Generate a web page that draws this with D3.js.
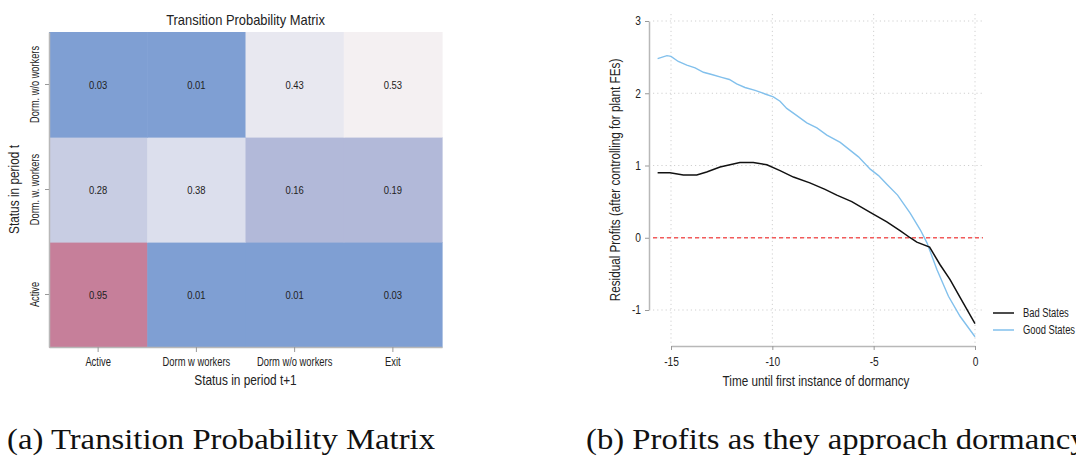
<!DOCTYPE html>
<html><head><meta charset="utf-8">
<script src="https://cdn.jsdelivr.net/npm/d3@7"></script>
<style>
html,body{margin:0;padding:0;background:#fff;}
svg{display:block;}
</style></head>
<body>
<svg id="chart" width="1076" height="456"></svg>
<script>
// ---------- DATA ----------
const colCategories = ["Active", "Dorm w workers", "Dorm w/o workers", "Exit"];
const rowCategories = ["Active", "Dorm. w. workers", "Dorm. w/o workers"];
const rowActive = [0.95, 0.01, 0.01, 0.03];
const rowDormW = [0.28, 0.38, 0.16, 0.19];
const rowDormWo = [0.03, 0.01, 0.43, 0.53];

const badT = [-15.66, -15.05, -14.39, -13.73, -13.24, -12.58, -12.09, -11.6, -10.94, -10.27, -9.62, -8.96, -8.15, -7.4, -6.82, -6.08, -5.17, -4.35, -3.7, -3.2, -2.87, -2.24, -1.73, -1.23, -0.73, 0];
const badV = [0.90, 0.90, 0.87, 0.87, 0.91, 0.98, 1.01, 1.04, 1.04, 1.01, 0.93, 0.84, 0.76, 0.67, 0.59, 0.50, 0.35, 0.22, 0.10, 0.00, -0.06, -0.13, -0.37, -0.58, -0.83, -1.19];
const goodT = [-15.66, -15.2, -15.0, -14.64, -14.22, -13.81, -13.4, -12.99, -12.5, -12.12, -11.76, -11.35, -10.85, -10.36, -9.95, -9.62, -9.29, -8.79, -8.3, -7.8, -7.31, -6.65, -5.75, -5.17, -4.76, -4.35, -3.82, -3.2, -2.7, -2.37, -1.88, -1.31, -0.73, 0];
const goodV = [2.48, 2.52, 2.51, 2.44, 2.39, 2.35, 2.29, 2.26, 2.22, 2.19, 2.13, 2.08, 2.04, 1.99, 1.95, 1.89, 1.79, 1.69, 1.59, 1.52, 1.42, 1.32, 1.12, 0.95, 0.86, 0.74, 0.59, 0.34, 0.11, -0.07, -0.44, -0.81, -1.09, -1.37];
const xTicks = [-15, -10, -5, 0];
const yTicks = [-1, 0, 1, 2, 3];
const seriesNames = ["Bad States", "Good States"];

// ---------- SETUP ----------
const svg = d3.select("#chart");
const sansFont = '"Liberation Sans",Arial,sans-serif';
// emulate a narrow sans face by horizontally compressing glyphs
function squeeze(sel, f) {
  sel.each(function () {
    const w = this.getComputedTextLength();
    d3.select(this).attr("textLength", (w * f).toFixed(2)).attr("lengthAdjust", "spacingAndGlyphs");
  });
}

// ---------- HEATMAP ----------
const matrix = [rowActive, rowDormW, rowDormWo];
const cells = [];
rowCategories.forEach((r, i) => colCategories.forEach((c, j) => cells.push({row: r, col: c, v: matrix[i][j]})));

const hx = d3.scaleBand().domain(colCategories).range([49, 442]);
const hy = d3.scaleBand().domain(rowCategories.slice().reverse()).range([32, 347]);
const hColor = d3.scaleThreshold()
  .domain([0.1, 0.2, 0.3, 0.4, 0.5, 0.6, 0.9])
  .range(["#7f9fd3", "#b2b9d9", "#c8cde3", "#dcdfed", "#e8e8f0", "#f4f0f2", "#e2b9c8", "#c67f9a"]);

const hm = svg.append("g");
hm.selectAll("rect.cell").data(cells).join("rect")
  .attr("class", "cell")
  .attr("x", d => hx(d.col)).attr("y", d => hy(d.row))
  .attr("width", hx.bandwidth() + 0.6).attr("height", hy.bandwidth() + 0.6)
  .attr("fill", d => hColor(d.v));
const cellText = hm.selectAll("text.cellv").data(cells).join("text")
  .attr("class", "cellv")
  .attr("x", d => hx(d.col) + hx.bandwidth() / 2)
  .attr("y", d => hy(d.row) + hy.bandwidth() / 2)
  .attr("text-anchor", "middle").attr("dominant-baseline", "central")
  .style("font-family", sansFont).style("font-size", "11.5px").attr("fill", "#222")
  .text(d => d3.format(".2f")(d.v));
squeeze(cellText, 0.82);

// heatmap axes
const hxAxis = hm.append("g").attr("transform", "translate(0,347)")
  .call(d3.axisBottom(hx).tickSize(5).tickSizeOuter(0));
const hyAxis = hm.append("g").attr("transform", "translate(49,0)")
  .call(d3.axisLeft(hy).tickSize(4).tickSizeOuter(0));
[hxAxis, hyAxis].forEach(a => {
  a.select(".domain").attr("stroke", "#b8b8b8").attr("stroke-width", 1.5);
  a.selectAll(".tick line").attr("stroke", "#999");
  a.selectAll("text").style("font-family", sansFont).style("font-size", "12px").attr("fill", "#222");
});
hxAxis.selectAll("text").attr("dy", "0").attr("y", 19);
hyAxis.selectAll(".tick text")
  .attr("text-anchor", "middle").attr("x", 0).attr("dy", 0)
  .attr("transform", "translate(-10,0) rotate(-90)");
squeeze(hxAxis.selectAll(".tick text"), 0.78);
squeeze(hyAxis.selectAll(".tick text"), 0.77);

const hTitle = hm.append("text").attr("x", 245.5).attr("y", 25).attr("text-anchor", "middle")
  .style("font-family", sansFont).style("font-size", "15px").attr("fill", "#222")
  .text("Transition Probability Matrix");
squeeze(hTitle, 0.86);
const hXT = hm.append("text").attr("x", 245.5).attr("y", 385).attr("text-anchor", "middle")
  .style("font-family", sansFont).style("font-size", "15px").attr("fill", "#222")
  .text("Status in period t+1");
squeeze(hXT, 0.79);
const hYT = hm.append("text").attr("transform", "translate(19,189.5) rotate(-90)").attr("text-anchor", "middle")
  .style("font-family", sansFont).style("font-size", "15px").attr("fill", "#222")
  .text("Status in period t");
squeeze(hYT, 0.79);

// ---------- LINE CHART ----------
const x = d3.scaleLinear().domain([-15, 0]).range([671, 975]);
const y = d3.scaleLinear().domain([-1, 3]).range([310, 21]);
const lc = svg.append("g");

// grid
lc.selectAll("line.vg").data(xTicks).join("line").attr("class", "vg")
  .attr("x1", d => x(d)).attr("x2", d => x(d)).attr("y1", 14).attr("y2", 343)
  .attr("stroke", "#d0d0d0").attr("stroke-dasharray", "1.2,3");
lc.selectAll("line.hg").data(yTicks).join("line").attr("class", "hg")
  .attr("x1", 653).attr("x2", 983).attr("y1", d => y(d)).attr("y2", d => y(d))
  .attr("stroke", "#d0d0d0").attr("stroke-dasharray", "1.2,3");

// axes
const xAxis = lc.append("g").attr("transform", "translate(0,346)")
  .call(d3.axisBottom(x).tickValues(xTicks).tickSize(4).tickSizeOuter(0).tickFormat(d3.format("d")));
const yAxis = lc.append("g").attr("transform", "translate(649,0)")
  .call(d3.axisLeft(y).tickValues(yTicks).tickSize(4).tickSizeOuter(0).tickFormat(d3.format("d")));
[xAxis, yAxis].forEach(a => {
  a.select(".domain").attr("stroke", "#b8b8b8").attr("stroke-width", 1.5);
  a.selectAll(".tick line").attr("stroke", "#999");
  a.selectAll("text").style("font-family", sansFont).style("font-size", "12px").attr("fill", "#222");
});
xAxis.selectAll("text").attr("dy", 0).attr("y", 20);
yAxis.selectAll("text").attr("x", -8);
xAxis.selectAll("text").text(d => d < 0 ? "-" + Math.abs(d) : d);
yAxis.selectAll("text").text(d => d < 0 ? "-" + Math.abs(d) : d);
squeeze(xAxis.selectAll(".tick text"), 0.85);
squeeze(yAxis.selectAll(".tick text"), 0.85);

// zero line
lc.append("line").attr("x1", 653).attr("x2", 983).attr("y1", y(0)).attr("y2", y(0))
  .attr("stroke", "#f25b5b").attr("stroke-width", 1.5).attr("stroke-dasharray", "4,3");

// series
const line = d3.line().x(d => x(d[0])).y(d => y(d[1]));
const bad = badT.map((t, i) => [t, badV[i]]);
const good = goodT.map((t, i) => [t, goodV[i]]);
lc.append("path").datum(good).attr("d", line).attr("fill", "none")
  .attr("stroke", "#82c0ec").attr("stroke-width", 1.4);
lc.append("path").datum(bad).attr("d", line).attr("fill", "none")
  .attr("stroke", "#111").attr("stroke-width", 1.5);

// titles
const lXT = lc.append("text").attr("x", 816).attr("y", 386).attr("text-anchor", "middle")
  .style("font-family", sansFont).style("font-size", "15px").attr("fill", "#222")
  .text("Time until first instance of dormancy");
squeeze(lXT, 0.78);
const lYT = lc.append("text").attr("transform", "translate(620,180) rotate(-90)").attr("text-anchor", "middle")
  .style("font-family", sansFont).style("font-size", "15px").attr("fill", "#222")
  .text("Residual Profits (after controlling for plant FEs)");
squeeze(lYT, 0.78);

// legend
const legColors = ["#111", "#82c0ec"];
const leg = lc.append("g");
seriesNames.forEach((n, i) => {
  const ly = 313 + i * 17;
  leg.append("line").attr("x1", 993).attr("x2", 1014).attr("y1", ly).attr("y2", ly)
    .attr("stroke", legColors[i]).attr("stroke-width", 1.5);
  const t = leg.append("text").attr("x", 1023).attr("y", ly).attr("dominant-baseline", "central")
    .style("font-family", sansFont).style("font-size", "12px").attr("fill", "#222").text(n);
  squeeze(t, 0.78);
});

// ---------- CAPTIONS ----------
const serif = '"Liberation Serif","DejaVu Serif",serif';
const capA = svg.append("text").attr("x", 7).attr("y", 449)
  .style("font-family", serif).style("font-size", "29px").attr("fill", "#111")
  .text("(a) Transition Probability Matrix");
const stretch = 428 / capA.node().getComputedTextLength();
squeeze(capA, stretch);
const capB = svg.append("text").attr("x", 586).attr("y", 449)
  .style("font-family", serif).style("font-size", "29px").attr("fill", "#111")
  .text("(b) Profits as they approach dormancy");
squeeze(capB, stretch);
</script>
</body></html>
